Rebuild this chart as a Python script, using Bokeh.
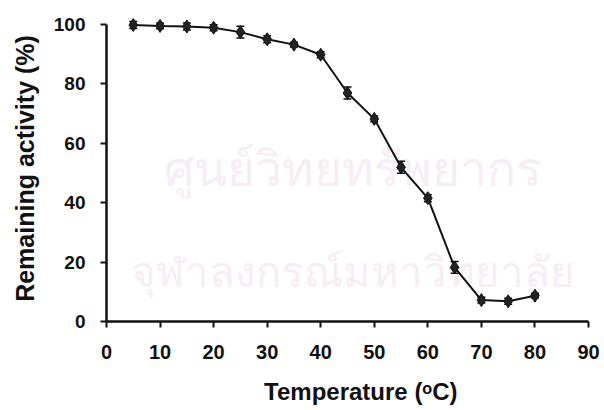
from bokeh.plotting import figure
from bokeh.models import Range1d, ColumnDataSource, Whisker, TeeHead, Label, FixedTicker
from bokeh.embed import file_html
from bokeh.resources import INLINE

temperature = [5, 10, 15, 20, 25, 30, 35, 40, 45, 50, 55, 60, 65, 70, 75, 80]
activity = [99.8, 99.5, 99.3, 98.9, 97.4, 95.0, 93.2, 89.8, 76.9, 68.2, 51.9, 41.5, 18.2, 7.2, 6.8, 8.7]
error = [1.2, 1.0, 1.2, 1.0, 2.0, 1.2, 0.8, 1.0, 2.0, 1.0, 2.0, 1.2, 2.0, 1.0, 1.0, 0.8]
x_ticks = [0, 10, 20, 30, 40, 50, 60, 70, 80, 90]
y_ticks = [0, 20, 40, 60, 80, 100]
watermark_lines = ["ศูนย์วิทยทรัพยากร", "จุฬาลงกรณ์มหาวิทยาลัย"]

lower = [a - e for a, e in zip(activity, error)]
upper = [a + e for a, e in zip(activity, error)]
src = ColumnDataSource(dict(x=temperature, y=activity, lo=lower, hi=upper))

p = figure(width=604, height=410, output_backend="svg", toolbar_location=None,
           x_range=Range1d(0, 90), y_range=Range1d(0, 103),
           min_border_left=106, min_border_right=16, min_border_top=15, min_border_bottom=89)
p.outline_line_color = None
p.xgrid.visible = False
p.ygrid.visible = False
p.background_fill_color = "white"
p.border_fill_color = "white"

# faint watermark
for txt, yy, fs in zip(watermark_lines, [52, 17], ["48px", "42px"]):
    p.add_layout(Label(x=46, y=yy, text=txt, text_align="center",
                       text_font_size=fs, text_color="#f7edf4", text_baseline="middle",
                       text_font="Noto Sans", level="underlay"))

p.line("x", "y", source=src, line_color="#111111", line_width=2)
w = Whisker(source=src, base="x", lower="lo", upper="hi", line_color="#111111", line_width=1.5,
            upper_head=TeeHead(size=8, line_color="#111111", line_width=1.5),
            lower_head=TeeHead(size=8, line_color="#111111", line_width=1.5))
p.add_layout(w)
p.scatter("x", "y", source=src, marker="diamond", size=13, fill_color="#222222", line_color="#111111")

for ax in (p.xaxis[0], p.yaxis[0]):
    ax.axis_line_width = 2.5
    ax.axis_line_color = "#111111"
    ax.major_tick_line_width = 2
    ax.major_tick_line_color = "#111111"
    ax.major_tick_out = 6
    ax.major_tick_in = 0
    ax.minor_tick_line_color = None
    ax.major_label_text_font = "Liberation Sans"
    ax.major_label_text_font_style = "bold"
    ax.major_label_text_color = "#111111"
    ax.axis_label_text_font = "Liberation Sans"
    ax.axis_label_text_font_style = "bold"
    ax.axis_label_text_color = "#111111"

p.xaxis.axis_label_text_font_size = "24px"
p.yaxis.axis_label_text_font_size = "25px"
p.xaxis.major_label_text_font_size = "20px"
p.yaxis.major_label_text_font_size = "19px"
p.xaxis.ticker = FixedTicker(ticks=x_ticks)
p.yaxis.ticker = FixedTicker(ticks=y_ticks)
p.yaxis.bounds = (0, 100)
p.xaxis.axis_label = "\u00a0\u00a0\u00a0\u00a0Temperature (ᵒC)"
p.yaxis.axis_label = "Remaining activity (%)"
p.xaxis.major_label_standoff = 17
p.yaxis.major_label_standoff = 15
p.xaxis.axis_label_standoff = 16
p.yaxis.axis_label_standoff = 12

open("out.html", "w").write(file_html(p, INLINE))
